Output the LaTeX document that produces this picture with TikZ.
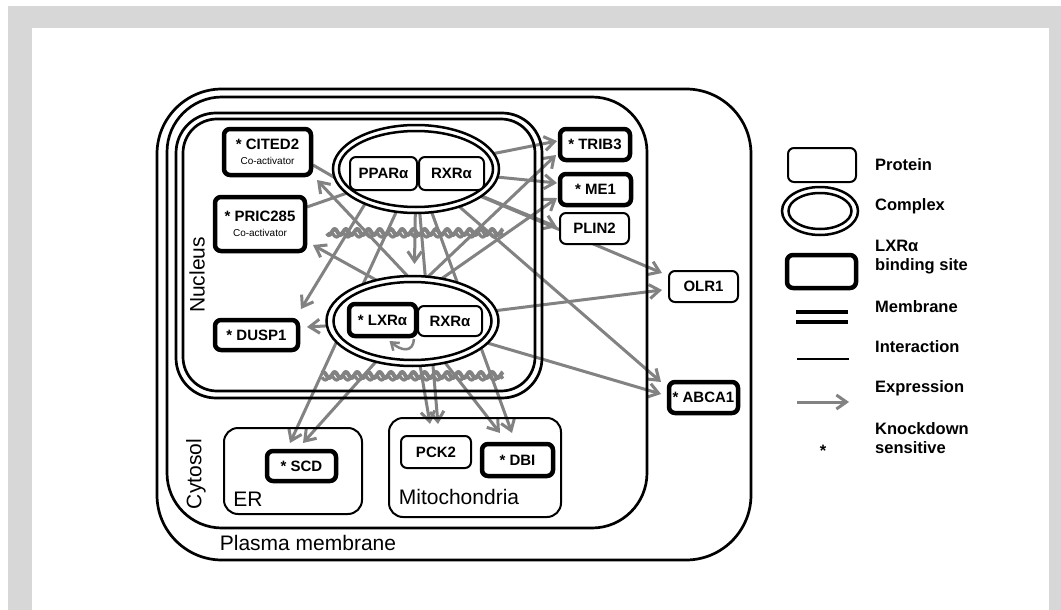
\documentclass[tikz,border=0pt]{standalone}
\usepackage{fontspec}
\setmainfont{Liberation Sans}
\usetikzlibrary{arrows.meta,calc,shapes.geometric}
\definecolor{framegray}{RGB}{215,215,215}
\definecolor{exgray}{RGB}{130,130,130}
\newcommand{\coactfont}{\normalfont\fontsize{10}{12}\selectfont}
\pgfdeclarelayer{frame}
\pgfdeclarelayer{bg}
\pgfsetlayers{frame,bg,main}
\begin{document}
\begin{tikzpicture}[x=1pt,y=-1pt,
  prot/.style={draw, rounded corners=6pt, line width=2pt, fill=white, inner sep=0pt, outer sep=0pt, align=center, font=\fontsize{15}{17}\selectfont\bfseries},
  bsite/.style={prot, line width=4.5pt},
  expr/.style={draw=exgray, line width=3pt, -{Straight Barb[length=10pt,width=14pt]}},
  inter/.style={draw=exgray, line width=3pt},
  cplx/.style={ellipse, draw, line width=2.5pt, fill=white, inner sep=0pt, outer sep=0pt},
  memb/.style={draw, line width=2.7pt},
  compart/.style={draw, line width=2pt, rounded corners=14pt, inner sep=0pt},
  region/.style={font=\fontsize{21}{24}\selectfont, inner sep=0pt},
  legtxt/.style={anchor=west, align=left, font=\fontsize{16.5}{19}\selectfont\bfseries, inner sep=0pt},
  dna/.style={draw=exgray, line width=4pt, line join=round}
]
\useasboundingbox (0,0) rectangle (1061,610);
\begin{pgfonlayer}{frame}
  \fill[white] (0,0) rectangle (1061,610);
  \fill[framegray] (8,6) rectangle (1061,610);
  \fill[white] (32,28) rectangle (1049,610);
\end{pgfonlayer}

% cell compartments
\draw[memb, rounded corners=65pt] (157,89) rectangle (751,560);
\draw[memb, rounded corners=55pt] (167,97) rectangle (647,528);
\draw[memb, rounded corners=40pt] (176,113) rectangle (542,398);
\draw[memb, rounded corners=34pt] (183,119) rectangle (535,391);

\node[region, rotate=90] (nuclbl) at (197,275) {Nucleus};
\node[region, rotate=90] (cytlbl) at (196,474) {Cytosol};
\node[region] (pmlbl) at (308,543) {Plasma membrane};

\node[compart, minimum width=138pt, minimum height=86pt] (ER) at (293,471) {};
\node[compart, minimum width=172pt, minimum height=99pt] (Mito) at (475,467.5) {};
\node[region] (erlbl) at (248,499) {ER};
\node[region] (mitolbl) at (459,497) {Mitochondria};

% proteins
\node[bsite, minimum width=87pt, minimum height=46pt] (CITED2) at (267.5,152)
  {* CITED2\\[-2pt]{\coactfont Co-activator}};
\node[bsite, minimum width=90pt, minimum height=54pt] (PRIC285) at (260,224)
  {* PRIC285\\[-2pt]{\coactfont Co-activator}};
\node[bsite, minimum width=83pt, minimum height=30pt] (DUSP1) at (256.5,335) {* DUSP1};
\node[bsite, minimum width=70pt, minimum height=31pt] (TRIB3) at (595,144.5) {* TRIB3};
\node[bsite, minimum width=71pt, minimum height=31pt] (ME1) at (595.5,189.5) {* ME1};
\node[prot, minimum width=69pt, minimum height=31pt] (PLIN2) at (594.5,228.5) {PLIN2};
\node[prot, minimum width=69pt, minimum height=31pt] (OLR1) at (703.5,286.5) {OLR1};
\node[bsite, minimum width=69pt, minimum height=31pt] (ABCA1) at (703.5,397.5) {* ABCA1};
\node[bsite, minimum width=69pt, minimum height=30pt] (SCD) at (301.5,466) {* SCD};
\node[prot, minimum width=70pt, minimum height=32pt] (PCK2) at (436,452) {PCK2};
\node[bsite, minimum width=71pt, minimum height=32pt] (DBI) at (517.5,460) {* DBI};

% complexes
\node[cplx, minimum width=166pt, minimum height=88pt] (P) at (416,169) {};
\node[cplx, minimum width=154pt, minimum height=76pt] (Pin) at (P.center) {};
\node[prot, minimum width=67pt, minimum height=33pt] (PPAR) at (383.5,173.5) {PPARα};
\node[prot, minimum width=65pt, minimum height=33pt] (RXR1) at (451.5,173.5) {RXRα};

\node[cplx, minimum width=172pt, minimum height=90pt] (L) at (412.5,321) {};
\node[cplx, minimum width=158pt, minimum height=78pt] (Lin) at (L.center) {};
\node[prot, minimum width=64pt, minimum height=30pt] (RXR2) at (450,321) {RXRα};
\node[bsite, minimum width=67pt, minimum height=32pt] (LXR) at (382.5,320) {* LXRα};

% self loop of LXR
\draw[draw=exgray, line width=2.5pt, -{Straight Barb[length=7pt,width=10pt]}]
  ($(LXR.south east)+(-2,3)$) .. controls +(-1,14) and +(12,10) .. ($(LXR.south)+(7,5)$);

\begin{pgfonlayer}{bg}
  % DNA strands
  \draw[dna] plot[domain=327:503, samples=180, smooth] (\x, {232+3*sin(32*\x)});
  \draw[dna, line width=3.2pt] plot[domain=327:503, samples=180, smooth] (\x, {235+2*sin(32*\x+120)});
  \draw[dna] plot[domain=322:503, samples=180, smooth] (\x, {375+3*sin(32*\x)});
  \draw[dna, line width=3.2pt] plot[domain=322:503, samples=180, smooth] (\x, {378+2*sin(32*\x+120)});

  % interactions of co-activators
  \draw[inter] ($(CITED2.east)+(2,13)$) -- (P.186);
  \draw[inter] ($(PRIC285.east)+(2,-17)$) -- (P.center);

  % PPAR complex expression
  \draw[expr] (P.center) -- ($(TRIB3.west)+(-3,-3.5)$);
  \draw[expr] (P.center) -- ($(ME1.west)+(-3,-6.5)$);
  \draw[expr] (P.center) -- ($(PLIN2.west)+(-3,-1.5)$);
  \draw[expr] (P.center) -- ($(OLR1.west)+(-7,-13.5)$);
  \draw[expr] (P.center) -- ($(ABCA1.west)+(-8,-15.5)$);
  \draw[expr] (P.center) -- ($(L.north)+(2,-12)$);
  \draw[expr] (PPAR.center) -- ($(DUSP1.north east)+(3,-11)$);
  \draw[expr] (P.center) -- ($(SCD.north)+(-11.5,-8)$);
  \draw[expr] (P.center) -- ($(PCK2.north)+(2,-12)$);
  \draw[expr] (P.center) -- ($(DBI.north)+(-5.5,-11)$);

  % LXR complex expression
  \draw[expr] (RXR2.center) -- ($(CITED2.south east)+(6,5)$);
  \draw[expr] (RXR2.center) -- ($(PRIC285.east)+(8,21)$);
  \draw[expr] (L.center) -- ($(DUSP1.east)+(9,-8)$);
  \draw[expr] (LXR.center) -- ($(TRIB3.west)+(-4,10.5)$);
  \draw[expr] (LXR.center) -- ($(ME1.west)+(-3,8.5)$);
  \draw[expr] (L.center) -- ($(OLR1.west)+(-7,3.5)$);
  \draw[expr] (L.center) -- ($(ABCA1.west)+(-8,-3.5)$);
  \draw[expr] (L.center) -- ($(SCD.north)+(1.5,-8)$);
  \draw[expr] (L.center) -- ($(PCK2.north)+(-6,-12)$);
  \draw[expr] (L.center) -- ($(DBI.north)+(-17.5,-11)$);
\end{pgfonlayer}

% legend
\node[prot, minimum width=68pt, minimum height=34pt] (lgprot) at (822,165) {};
\node[cplx, minimum width=76pt, minimum height=48pt] (lgcplx) at (820,211) {};
\node[cplx, minimum width=63pt, minimum height=36pt] (lgcplxin) at (lgcplx.center) {};
\node[bsite, minimum width=69pt, minimum height=33pt] (lgbind) at (821.5,271.5) {};
\coordinate (lgm1a) at (796,312); \coordinate (lgm1b) at (848,312);
\coordinate (lgm2a) at (796,322); \coordinate (lgm2b) at (848,322);
\draw[line width=3.5pt] (lgm1a) -- (lgm1b);
\draw[line width=3.5pt] (lgm2a) -- (lgm2b);
\coordinate (lgia) at (797,359); \coordinate (lgib) at (849,359);
\draw[line width=2.8pt] (lgia) -- (lgib);
\coordinate (lgea) at (797,402); \coordinate (lgeb) at (849,402);
\draw[expr] (lgea) -- (lgeb);
\node[font=\fontsize{16.5}{19}\selectfont\bfseries, inner sep=0pt] (lgast) at (823,451) {*};

\node[legtxt] (tprot) at (875,165) {Protein};
\node[legtxt] (tcplx) at (875,206) {Complex};
\node[legtxt] (tbind) at (875,257.5) {LXRα\\binding site};
\node[legtxt] (tmemb) at (875,307) {Membrane};
\node[legtxt] (tinter) at (875,347) {Interaction};
\node[legtxt] (texpr) at (875,388) {Expression};
\node[legtxt] (tkd) at (875,438.5) {Knockdown\\sensitive};
\end{tikzpicture}
\end{document}
